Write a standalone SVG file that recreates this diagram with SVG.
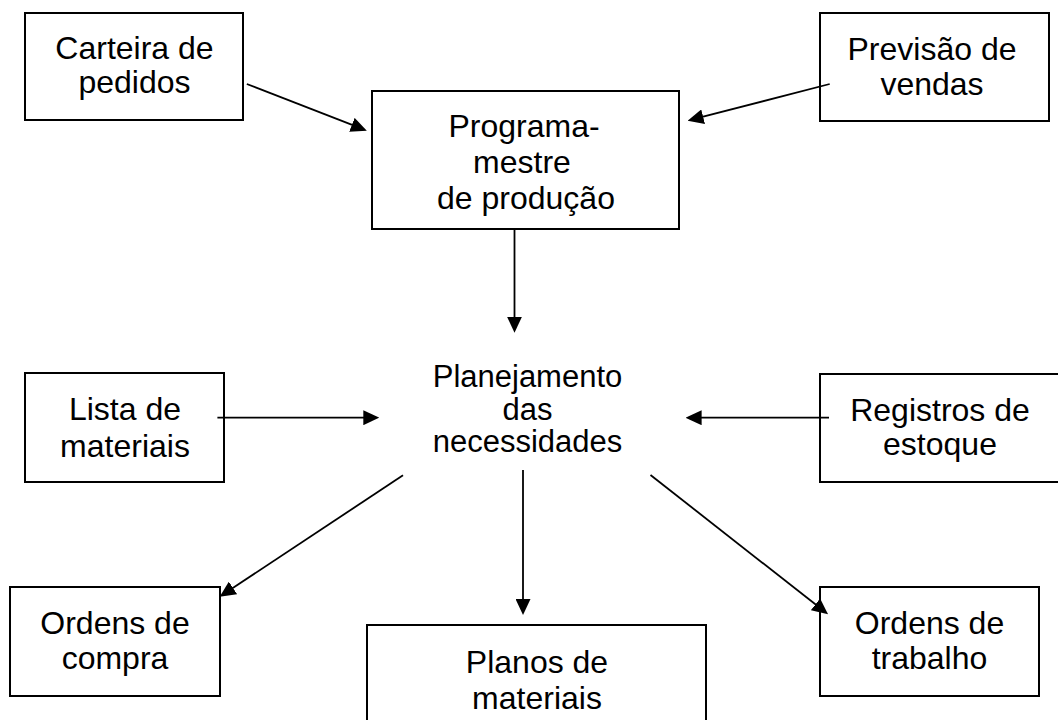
<svg xmlns="http://www.w3.org/2000/svg" width="1058" height="720" viewBox="0 0 1058 720">
<style>
.box{fill:#fff;stroke:#000;stroke-width:2}
.lbl{font-family:"Liberation Sans",Arial,sans-serif;font-size:32px;fill:#000;text-anchor:middle}
.ctr{font-size:31px}
.edge{stroke:#000;stroke-width:1.8;fill:none;marker-end:url(#ah)}
</style>
<defs>
<marker id="ah" viewBox="0 0 16 15" refX="12" refY="7.5" markerWidth="16" markerHeight="15" markerUnits="userSpaceOnUse" orient="auto">
<path d="M0,0 L16,7.5 L0,15 Z" fill="#000"/>
</marker>
</defs>
<rect width="1058" height="720" fill="#fff"/>
<g id="carteira">
<rect class="box" x="25" y="13" width="218" height="107"/>
<text class="lbl" x="134.5" y="59">Carteira de</text>
<text class="lbl" x="134.5" y="93">pedidos</text>
</g>
<g id="previsao">
<rect class="box" x="820" y="13" width="229" height="108"/>
<text class="lbl" x="932" y="60">Previsão de</text>
<text class="lbl" x="932" y="95">vendas</text>
</g>
<g id="programa">
<rect class="box" x="372" y="91" width="307" height="138"/>
<text class="lbl" x="524" y="137">Programa-</text>
<text class="lbl" x="522" y="173">mestre</text>
<text class="lbl" x="526" y="209">de produção</text>
</g>
<g id="planejamento">
<text class="lbl ctr" x="527.5" y="387">Planejamento</text>
<text class="lbl ctr" x="527.5" y="420">das</text>
<text class="lbl ctr" x="527.5" y="452">necessidades</text>
</g>
<g id="lista">
<rect class="box" x="25" y="373" width="199" height="109"/>
<text class="lbl" x="125" y="420">Lista de</text>
<text class="lbl" x="125" y="456.5">materiais</text>
</g>
<g id="registros">
<rect class="box" x="820" y="374" width="250" height="108"/>
<text class="lbl" x="940" y="420.5">Registros de</text>
<text class="lbl" x="940" y="455">estoque</text>
</g>
<g id="compra">
<rect class="box" x="10" y="587" width="210" height="109"/>
<text class="lbl" x="115" y="633.5">Ordens de</text>
<text class="lbl" x="115" y="669">compra</text>
</g>
<g id="planos">
<rect class="box" x="367" y="625" width="339" height="110"/>
<text class="lbl" x="537" y="672.5">Planos de</text>
<text class="lbl" x="537" y="708.5">materiais</text>
</g>
<g id="trabalho">
<rect class="box" x="820" y="587" width="219" height="109"/>
<text class="lbl" x="929.5" y="633.5">Ordens de</text>
<text class="lbl" x="929.5" y="669">trabalho</text>
</g>
<g id="connectors">
<line class="edge" x1="246.8" y1="84" x2="363.1" y2="129.2"/>
<line class="edge" x1="829.7" y1="84" x2="691.5" y2="119.7"/>
<line class="edge" x1="514.5" y1="229" x2="514.5" y2="328.7"/>
<line class="edge" x1="217.4" y1="417.7" x2="375.3" y2="417.7"/>
<line class="edge" x1="829" y1="417.7" x2="689.6" y2="417.7"/>
<line class="edge" x1="403" y1="475.3" x2="223" y2="594.5"/>
<line class="edge" x1="523" y1="470" x2="523" y2="611"/>
<line class="edge" x1="650.5" y1="475" x2="824.9" y2="611.8"/>
</g>
</svg>
